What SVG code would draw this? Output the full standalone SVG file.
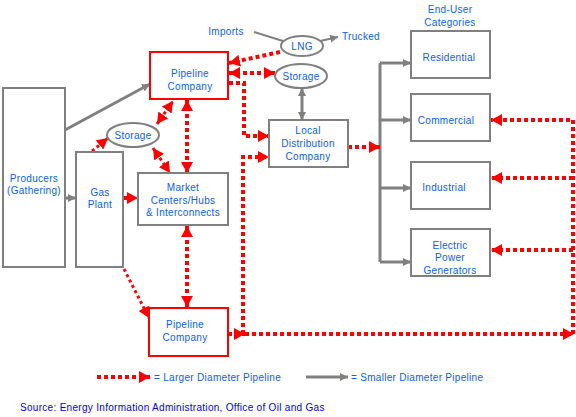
<svg xmlns="http://www.w3.org/2000/svg" width="576" height="417" viewBox="0 0 576 417">
<style>
text{font-family:"Liberation Sans",Arial,sans-serif;font-size:10px;letter-spacing:0.3px;fill:#0a5cff;text-anchor:middle}
.box{fill:#fff;stroke:#808080;stroke-width:2}
.pbox{fill:#fff;stroke:#ff0000;stroke-width:2}
.ell{fill:#fff;stroke:#808080;stroke-width:2}
.red{fill:none;stroke:#ff0000;stroke-width:4;stroke-dasharray:4 3}
.redt{fill:none;stroke:#ff0000;stroke-width:3;stroke-dasharray:3 3}
.gray{fill:none;stroke:#808080;stroke-width:3}
.grayt{fill:none;stroke:#808080;stroke-width:2}
</style>
<defs>
<marker id="re" markerUnits="userSpaceOnUse" markerWidth="11" markerHeight="12" refX="11" refY="6" orient="auto-start-reverse"><path d="M0,0 L11,6 L0,12 z" fill="#ff0000"/></marker>
<marker id="ge" markerUnits="userSpaceOnUse" markerWidth="8" markerHeight="8" refX="8" refY="4" orient="auto-start-reverse"><path d="M0,0 L8,4 L0,8 z" fill="#808080"/></marker>
</defs>
<rect width="576" height="417" fill="#fff"/>

<g id="connectors">
<line class="gray" x1="65" y1="130" x2="150" y2="84" marker-end="url(#ge)"/>
<line class="gray" x1="65" y1="198" x2="76" y2="198" marker-end="url(#ge)"/>
<line class="grayt" x1="254" y1="32" x2="283" y2="41"/>
<line class="grayt" x1="320" y1="41" x2="338" y2="37" marker-end="url(#ge)"/>
<line class="gray" x1="302" y1="88" x2="302" y2="120" marker-start="url(#ge)" marker-end="url(#ge)"/>
<path class="gray" d="M380,63 V262"/>
<line class="gray" x1="380" y1="63" x2="411" y2="63" marker-end="url(#ge)"/>
<line class="gray" x1="380" y1="120" x2="411" y2="120" marker-end="url(#ge)"/>
<line class="gray" x1="380" y1="188" x2="411" y2="188" marker-end="url(#ge)"/>
<line class="gray" x1="380" y1="262" x2="411" y2="262" marker-end="url(#ge)"/>
<line class="redt" x1="92" y1="151" x2="108" y2="138" marker-end="url(#re)"/>
<line class="redt" x1="157" y1="124" x2="173" y2="101" marker-start="url(#re)" marker-end="url(#re)"/>
<line class="redt" x1="153" y1="148" x2="170" y2="173" marker-start="url(#re)" marker-end="url(#re)"/>
<line class="red" x1="187" y1="100" x2="187" y2="173" marker-start="url(#re)" marker-end="url(#re)"/>
<line class="red" x1="187" y1="226" x2="187" y2="307" marker-start="url(#re)" marker-end="url(#re)"/>
<line class="red" x1="123" y1="198" x2="138" y2="198" marker-end="url(#re)"/>
<line class="redt" x1="124" y1="269" x2="149" y2="318" marker-end="url(#re)"/>
<line class="red" x1="280" y1="52" x2="229" y2="63" marker-end="url(#re)"/>
<line class="red" x1="229" y1="73" x2="275" y2="73" marker-start="url(#re)" marker-end="url(#re)"/>
<path class="red" d="M229,83 H244 V136 H269" marker-end="url(#re)"/>
<path class="red" d="M243,334 V157 H269" marker-end="url(#re)"/>
<line class="red" x1="228" y1="334" x2="245" y2="334" marker-end="url(#re)"/>
<path class="red" d="M245,334 H574" marker-end="url(#re)"/>
<line class="red" x1="348" y1="147" x2="380" y2="147" marker-end="url(#re)"/>
<path class="red" d="M573,334 V120 H491" marker-end="url(#re)"/>
<line class="red" x1="573" y1="178" x2="491" y2="178" marker-end="url(#re)"/>
<line class="red" x1="573" y1="250" x2="491" y2="250" marker-end="url(#re)"/>
</g>

<g id="producers"><rect class="box" x="3" y="88" width="62" height="179"/><text x="34" y="182">Producers</text><text x="34" y="194">(Gathering)</text></g>
<g id="gasplant"><rect class="box" x="76" y="152" width="47" height="115"/><text x="100" y="196">Gas</text><text x="100" y="208">Plant</text></g>
<g id="storage1"><ellipse class="ell" cx="133" cy="135" rx="26" ry="12"/><text x="133" y="139">Storage</text></g>
<g id="market"><rect class="box" x="138" y="173" width="90" height="52"/><text x="183" y="191">Market</text><text x="183" y="204">Centers/Hubs</text><text x="183" y="216">&amp; Interconnects</text></g>
<g id="pipeline1"><rect class="pbox" x="150" y="52" width="78" height="47"/><text x="190" y="77">Pipeline</text><text x="190" y="90">Company</text></g>
<g id="pipeline2"><rect class="pbox" x="149" y="308" width="79" height="48"/><text x="185" y="328">Pipeline</text><text x="185" y="341">Company</text></g>
<g id="lng"><ellipse class="ell" cx="302" cy="46" rx="21" ry="10"/><text x="302" y="50">LNG</text></g>
<g id="storage2"><ellipse class="ell" cx="301" cy="76" rx="26" ry="12"/><text x="301" y="80">Storage</text></g>
<g id="imports"><text x="226" y="35">Imports</text></g>
<g id="trucked"><text x="361" y="40">Trucked</text></g>
<g id="ldc"><rect class="box" x="269" y="120" width="79" height="47"/><text x="308" y="134">Local</text><text x="308" y="147">Distribution</text><text x="308" y="160">Company</text></g>
<g id="enduser"><text x="450" y="13">End-User</text><text x="450" y="26">Categories</text></g>
<g id="residential"><rect class="box" x="411" y="31" width="79" height="47"/><text x="449" y="61">Residential</text></g>
<g id="commercial"><rect class="box" x="411" y="94" width="79" height="47"/><text x="446" y="124">Commercial</text></g>
<g id="industrial"><rect class="box" x="411" y="162" width="79" height="47"/><text x="444" y="191">Industrial</text></g>
<g id="electric"><rect class="box" x="411" y="229" width="79" height="47"/><text x="450" y="249">Electric</text><text x="450" y="261">Power</text><text x="450" y="274">Generators</text></g>

<g id="legend">
<line class="red" x1="97" y1="377" x2="150" y2="377" marker-end="url(#re)"/>
<text x="154" y="381" style="text-anchor:start">=  Larger Diameter Pipeline</text>
<line class="gray" x1="306" y1="377" x2="348" y2="377" marker-end="url(#ge)"/>
<text x="351" y="381" style="text-anchor:start">= Smaller Diameter Pipeline</text>
<text x="20" y="411" style="text-anchor:start;fill:#0000ee">Source: Energy Information Administration, Office of Oil and Gas</text>
</g>
</svg>
